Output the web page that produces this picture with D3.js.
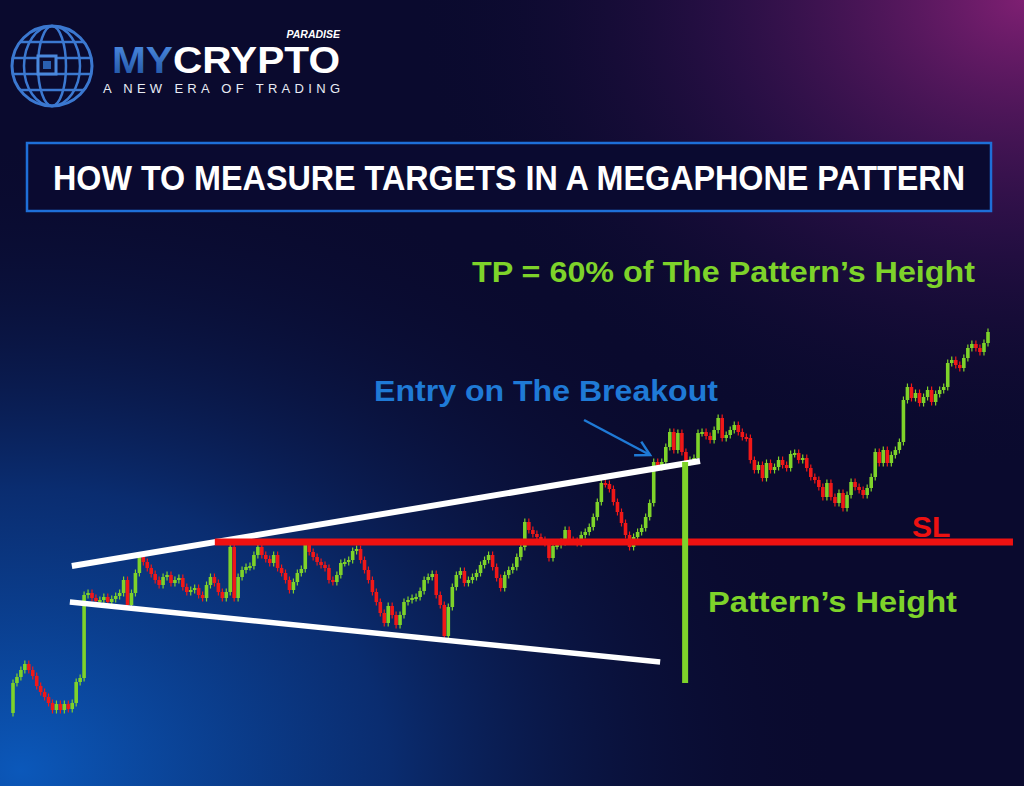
<!DOCTYPE html>
<html>
<head>
<meta charset="utf-8">
<script src="https://cdn.jsdelivr.net/npm/d3@7/dist/d3.min.js"></script>
<style>
  html, body { margin: 0; padding: 0; background: #0a0a2e; overflow: hidden; }
  text { font-family: "Liberation Sans", Arial, sans-serif; }
</style>
</head>
<body>
<div id="chart"></div>
<script>
// Candle data (price units), open of each candle = previous close
const firstOpen = 47;
const closes = [
  77, 83, 90, 96, 90, 84, 74, 68, 63, 57,
  50, 56, 50, 56, 51, 57, 78, 82, 165, 167,
  162, 159, 160, 163, 158, 161, 164, 167, 180, 155,
  167, 187, 203, 198, 192, 186, 180, 175, 183, 185,
  177, 180, 182, 173, 168, 170, 172, 165, 162, 175,
  183, 177, 168, 162, 168, 213, 162, 183, 190, 193,
  194, 205, 213, 205, 201, 197, 205, 192, 187, 180,
  170, 178, 187, 191, 215, 208, 203, 198, 195, 192,
  180, 178, 185, 197, 198, 200, 209, 211, 200, 190,
  180, 168, 158, 147, 137, 154, 145, 135, 145, 158,
  160, 162, 163, 169, 180, 183, 186, 165, 155, 124,
  153, 173, 185, 189, 177, 180, 183, 187, 195, 200,
  205, 193, 182, 172, 185, 190, 193, 203, 213, 238,
  230, 226, 223, 220, 217, 202, 214, 215, 218, 230,
  220, 219, 217, 225, 228, 233, 243, 258, 277, 276,
  271, 258, 248, 237, 225, 213, 223, 228, 232, 243,
  257, 298, 293, 298, 313, 328, 310, 327, 308, 298,
  300, 302, 327, 328, 324, 320, 330, 342, 322, 325,
  330, 335, 328, 323, 322, 300, 290, 295, 282, 297,
  290, 293, 300, 295, 292, 306, 307, 300, 302, 292,
  283, 280, 273, 263, 277, 263, 257, 267, 252, 265,
  278, 273, 270, 265, 272, 283, 308, 297, 310, 297,
  305, 310, 318, 360, 373, 362, 367, 357, 363, 370,
  358, 366, 370, 373, 397, 400, 395, 392, 402, 412,
  416, 412, 408, 417, 428
];
const wickSize = 3.5;

// Pattern annotations, [candle index, price]
const upperLine = [[14.9, 194], [172.5, 299]];
const lowerLine = [[14.4, 158], [162.6, 98]];
const slLine = [[51.1, 218], [250.2, 218]];
const heightLine = [[168.8, 298], [168.8, 77]];
const entryArrow = [[143.7, 340], [160.1, 305]];

const titleText = 'HOW TO MEASURE TARGETS IN A MEGAPHONE PATTERN';
const tpText = 'TP = 60% of The Pattern\u2019s Height';
const entryText = 'Entry on The Breakout';
const heightText = 'Pattern\u2019s Height';
const slText = 'SL';

const W = 1024, H = 786;
const GREEN = '#7ed32a', RED = '#f01818', BLUE = '#1f7ad6';

const candles = closes.map((c, i) => {
  const o = i === 0 ? firstOpen : closes[i - 1];
  return { i, o, c, h: Math.max(o, c) + wickSize, l: Math.min(o, c) - wickSize };
});

const svg = d3.select('#chart').append('svg')
  .attr('width', W).attr('height', H)
  .attr('viewBox', `0 0 ${W} ${H}`);

// Background
const defs = svg.append('defs');
const bl = defs.append('radialGradient').attr('id', 'bgBlue')
  .attr('cx', 0.02).attr('cy', 0.98).attr('r', 0.8);
bl.append('stop').attr('offset', '0%').attr('stop-color', '#0b58ba').attr('stop-opacity', 1);
bl.append('stop').attr('offset', '45%').attr('stop-color', '#0a3580').attr('stop-opacity', 0.8);
bl.append('stop').attr('offset', '100%').attr('stop-color', '#0a0a2e').attr('stop-opacity', 0);
const pr = defs.append('radialGradient').attr('id', 'bgPurple')
  .attr('cx', 1).attr('cy', 0).attr('r', 0.6);
pr.append('stop').attr('offset', '0%').attr('stop-color', '#7e1f72').attr('stop-opacity', 1);
pr.append('stop').attr('offset', '50%').attr('stop-color', '#3a1252').attr('stop-opacity', 0.6);
pr.append('stop').attr('offset', '100%').attr('stop-color', '#0a0a2e').attr('stop-opacity', 0);
const mg = defs.append('linearGradient').attr('id', 'myGrad')
  .attr('x1', 0).attr('y1', 0).attr('x2', 0).attr('y2', 1);
mg.append('stop').attr('offset', '0%').attr('stop-color', '#4f8fe6');
mg.append('stop').attr('offset', '100%').attr('stop-color', '#1d4f9e');

svg.append('rect').attr('width', W).attr('height', H).attr('fill', '#0a0a2e');
svg.append('rect').attr('width', W).attr('height', H).attr('fill', 'url(#bgBlue)');
svg.append('rect').attr('width', W).attr('height', H).attr('fill', 'url(#bgPurple)');

// Logo
const logo = svg.append('g').classed('logo', true);
const gx = 52, gy = 66, gr = 40;
logo.append('circle').attr('cx', gx).attr('cy', gy).attr('r', gr)
  .attr('fill', 'none').attr('stroke', '#3b78d0').attr('stroke-width', 3);
[0.35, 0.7].forEach(f => {
  logo.append('ellipse').attr('cx', gx).attr('cy', gy).attr('rx', gr * f).attr('ry', gr)
    .attr('fill', 'none').attr('stroke', '#3b78d0').attr('stroke-width', 2.5);
});
[-0.6, -0.2, 0.2, 0.6].forEach(f => {
  const yy = gy + gr * f;
  const half = Math.sqrt(gr * gr - (gr * f) * (gr * f));
  logo.append('line').attr('x1', gx - half).attr('x2', gx + half)
    .attr('y1', yy).attr('y2', yy).attr('stroke', '#3b78d0').attr('stroke-width', 2.5);
});
logo.append('rect').attr('x', gx - 14).attr('y', gy - 10).attr('width', 18).attr('height', 18)
  .attr('fill', '#0c0c30').attr('stroke', '#4a88dd').attr('stroke-width', 3);
logo.append('rect').attr('x', gx - 9).attr('y', gy - 5).attr('width', 8).attr('height', 8)
  .attr('fill', '#2a5fb0');

logo.append('text').attr('x', 112).attr('y', 73)
  .attr('font-size', 37).attr('font-weight', 900)
  .attr('textLength', 228).attr('lengthAdjust', 'spacingAndGlyphs')
  .call(t => {
    t.append('tspan').attr('fill', 'url(#myGrad)').text('MY');
    t.append('tspan').attr('fill', '#ffffff').text('CRYPTO');
  });
logo.append('text').attr('x', 340).attr('y', 38).attr('text-anchor', 'end')
  .attr('font-size', 10.5).attr('font-weight', 700).attr('font-style', 'italic')
  .attr('fill', '#ffffff').text('PARADISE');
logo.append('text').attr('x', 103).attr('y', 93)
  .attr('font-size', 13).attr('fill', '#e8ecf5')
  .attr('textLength', 237).attr('lengthAdjust', 'spacing')
  .text('A NEW ERA OF TRADING');

// Title box
svg.append('rect').attr('x', 27).attr('y', 143).attr('width', 964).attr('height', 68)
  .attr('fill', '#0a0a30').attr('stroke', '#1e6fd8').attr('stroke-width', 2.5);
svg.append('text').attr('x', 509).attr('y', 190).attr('text-anchor', 'middle')
  .attr('font-family', '"Liberation Sans Narrow", "Liberation Sans", Arial, sans-serif')
  .attr('font-size', 35).attr('font-weight', 700).attr('fill', '#ffffff')
  .attr('textLength', 912).attr('lengthAdjust', 'spacingAndGlyphs')
  .text(titleText);

// Scales
const xScale = d3.scaleLinear().domain([0, 99, 244]).range([13, 404, 988]);
const yScale = d3.scaleLinear().domain([0, 440]).range([760, 320]);

const lineGen = d3.line().x(d => xScale(d[0])).y(d => yScale(d[1]));

// Candles
const cg = svg.append('g').classed('candles', true);
const cs = cg.selectAll('g').data(candles).enter().append('g')
  .attr('fill', d => d.c >= d.o ? GREEN : RED)
  .attr('stroke', d => d.c >= d.o ? GREEN : RED);
cs.append('line')
  .attr('x1', d => xScale(d.i)).attr('x2', d => xScale(d.i))
  .attr('y1', d => yScale(d.h)).attr('y2', d => yScale(d.l))
  .attr('stroke-width', 1.2);
cs.append('rect')
  .attr('x', d => xScale(d.i) - 1.8).attr('width', 3.6)
  .attr('y', d => yScale(Math.max(d.o, d.c)))
  .attr('height', d => Math.max(2, Math.abs(yScale(d.o) - yScale(d.c))))
  .attr('stroke', 'none');

// Pattern lines
const lines = svg.append('g').classed('pattern', true);
lines.append('path').attr('d', lineGen(upperLine))
  .attr('stroke', '#ffffff').attr('stroke-width', 6).attr('fill', 'none');
lines.append('path').attr('d', lineGen(lowerLine))
  .attr('stroke', '#ffffff').attr('stroke-width', 5.5).attr('fill', 'none');
lines.append('path').attr('d', lineGen(slLine))
  .attr('stroke', '#ee1111').attr('stroke-width', 7).attr('fill', 'none');
lines.append('path').attr('d', lineGen(heightLine))
  .attr('stroke', GREEN).attr('stroke-width', 6).attr('fill', 'none');

// Entry arrow
const a0 = entryArrow[0], a1 = entryArrow[1];
const ax = xScale(a1[0]), ay = yScale(a1[1]);
const ang = Math.atan2(ay - yScale(a0[1]), ax - xScale(a0[0]));
lines.append('path').attr('d', lineGen(entryArrow))
  .attr('stroke', BLUE).attr('stroke-width', 2.5).attr('fill', 'none');
const hl = 16, hw = 0.5;
lines.append('path')
  .attr('d', `M${ax - hl * Math.cos(ang - hw)},${ay - hl * Math.sin(ang - hw)} L${ax},${ay} L${ax - hl * Math.cos(ang + hw)},${ay - hl * Math.sin(ang + hw)}`)
  .attr('stroke', BLUE).attr('stroke-width', 2.5).attr('fill', 'none');

// Labels
const labels = svg.append('g').classed('labels', true)
  .attr('font-weight', 700).attr('font-size', 30);
labels.append('text').attr('x', 472).attr('y', 282).attr('fill', GREEN)
  .attr('textLength', 503).attr('lengthAdjust', 'spacingAndGlyphs').text(tpText);
labels.append('text').attr('x', 374).attr('y', 401).attr('fill', BLUE)
  .attr('textLength', 344).attr('lengthAdjust', 'spacingAndGlyphs').text(entryText);
labels.append('text').attr('x', 708).attr('y', 612).attr('fill', GREEN)
  .attr('textLength', 249).attr('lengthAdjust', 'spacingAndGlyphs').text(heightText);
labels.append('text').attr('x', 912).attr('y', 537).attr('fill', '#ee1111')
  .attr('font-size', 30).text(slText);
</script>
</body>
</html>
